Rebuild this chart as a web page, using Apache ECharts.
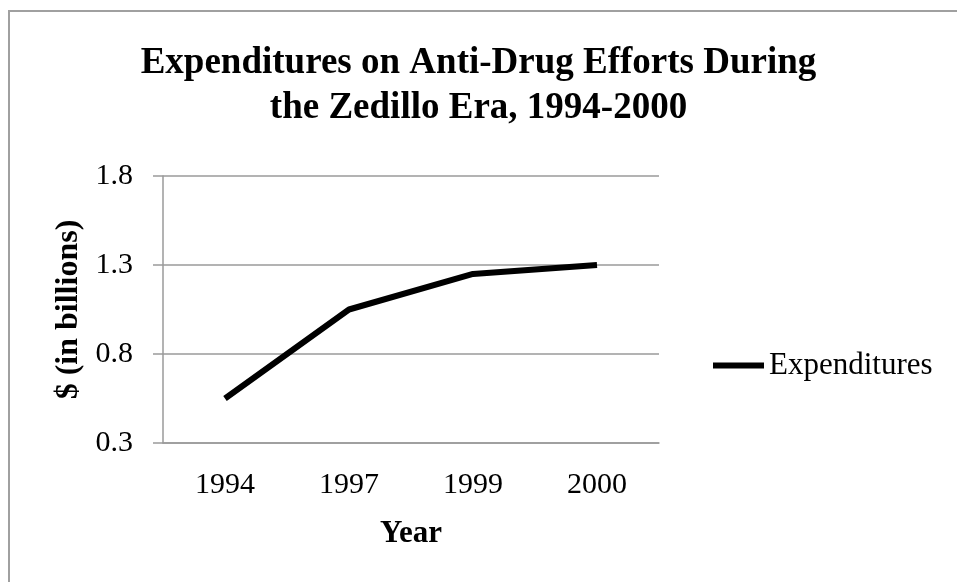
<!DOCTYPE html>
<html>
<head>
<meta charset="utf-8">
<script src="https://cdn.jsdelivr.net/npm/echarts@6/dist/echarts.min.js"></script>
<style>
html,body{margin:0;padding:0;background:#fff;}
#chart{width:957px;height:582px;}
</style>
</head>
<body>
<div id="chart"></div>
<script>
const titleText = 'Expenditures on Anti-Drug Efforts During\nthe Zedillo Era, 1994-2000';
const years = ['1994', '1997', '1999', '2000'];
const expenditures = [0.55, 1.05, 1.25, 1.30];
const yMin = 0.3, yMax = 1.8, yStep = 0.5;
const seriesName = 'Expenditures';
const xTitle = 'Year';
const yTitle = '$ (in billions)';

const FONT = '"Liberation Serif", "Times New Roman", serif';
const chart = echarts.init(document.getElementById('chart'));
chart.setOption({
  backgroundColor: '#fff',
  animation: false,
  graphic: [{
    type: 'rect', silent: true, z: -1,
    shape: {x: 9, y: 11, width: 1100, height: 1000},
    style: {fill: 'none', stroke: '#a0a0a0', lineWidth: 2}
  }],
  title: {
    text: titleText,
    left: 'center',
    top: 36,
    textStyle: {fontFamily: FONT, fontWeight: 'bold', fontSize: 37, lineHeight: 45, color: '#000', align: 'center'}
  },
  legend: {
    data: [seriesName],
    left: 708,
    top: 345,
    icon: 'rect',
    itemWidth: 51,
    itemHeight: 6,
    textStyle: {fontFamily: FONT, fontSize: 31, color: '#000'}
  },
  grid: {left: 163, right: 298, top: 176, bottom: 139, containLabel: false},
  xAxis: {
    type: 'category',
    data: years,
    boundaryGap: true,
    name: xTitle,
    nameLocation: 'middle',
    nameGap: 75,
    nameTextStyle: {fontFamily: FONT, fontWeight: 'bold', fontSize: 31, color: '#000'},
    axisLine: {lineStyle: {color: '#9a9a9a', width: 1.5}},
    axisTick: {show: false},
    axisLabel: {fontFamily: FONT, fontSize: 30, color: '#000', margin: 27}
  },
  yAxis: {
    type: 'value',
    min: yMin, max: yMax, interval: yStep,
    name: yTitle,
    nameLocation: 'middle',
    nameGap: 76,
    nameRotate: 90,
    nameTextStyle: {fontFamily: FONT, fontWeight: 'bold', fontSize: 32, color: '#000'},
    axisLine: {show: true, lineStyle: {color: '#9a9a9a', width: 1.5}},
    axisTick: {show: true, length: 10, lineStyle: {color: '#9a9a9a', width: 1.5}},
    splitLine: {lineStyle: {color: '#9a9a9a', width: 1.5}},
    axisLabel: {fontFamily: FONT, fontSize: 30, color: '#000', margin: 30,
      formatter: v => v.toFixed(1)}
  },
  series: [{
    name: seriesName,
    type: 'line',
    data: expenditures,
    symbol: 'none',
    color: '#000',
    lineStyle: {color: '#000', width: 6}
  }]
});
</script>
</body>
</html>
